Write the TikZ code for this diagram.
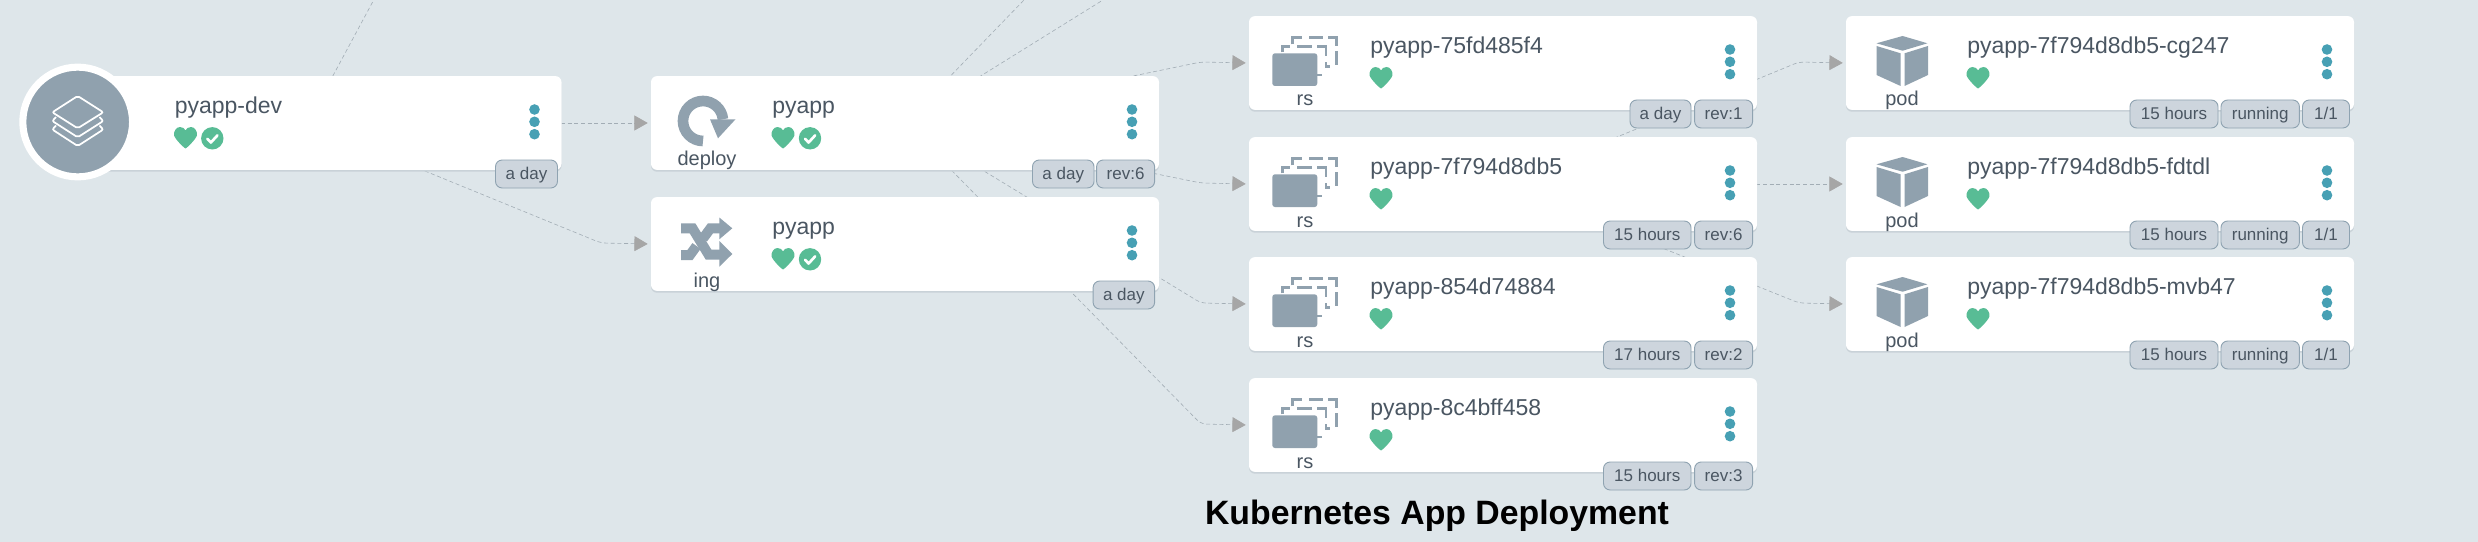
\documentclass[tikz,border=0pt]{standalone}
\usepackage{fontspec}
\setmainfont{Liberation Sans}
\usetikzlibrary{arrows.meta,shadows}
\definecolor{bgc}{HTML}{DEE6EA}
\definecolor{textc}{HTML}{4A5662}
\definecolor{iconc}{HTML}{90A1AE}
\definecolor{greenc}{HTML}{58BC95}
\definecolor{dotc}{HTML}{47A0B4}
\definecolor{badgef}{HTML}{CDD5DD}
\definecolor{badged}{HTML}{8FA3B1}
\definecolor{edgec}{HTML}{A2ADB5}
\definecolor{arrowc}{HTML}{A6A6A6}
\definecolor{shadowc}{HTML}{C9D2D8}
\pgfdeclarelayer{edges}
\pgfsetlayers{edges,main}
\tikzset{
  card/.style={rectangle,rounded corners=4.5pt,fill=white,draw=none,minimum width=381pt,minimum height=70.3pt,inner sep=0pt,
    copy shadow={shadow xshift=0pt,shadow yshift=-1.4pt,fill=shadowc,draw=none}},
  title/.style={text=textc,inner sep=0pt,font=\fontsize{17.25pt}{20pt}\selectfont},
  small/.style={text=textc,inner sep=0pt,font=\fontsize{15pt}{18pt}\selectfont},
  badge/.style={rectangle,rounded corners=5pt,fill=badgef,draw=badged,line width=.7pt,minimum height=21pt,inner sep=0pt,
    text=textc,text height=10pt,text depth=1.8pt,font=\fontsize{12.75pt}{15pt}\selectfont},
  edge/.style={draw=edgec,line width=.45pt,dash pattern=on 3pt off 2pt,rounded corners=4pt},
  arrowed/.style={edge,shorten >=2.25pt,-{Triangle[length=10pt,width=11.25pt,color=arrowc,fill=arrowc]}},
  caption/.style={text=black,inner sep=0pt,font=\fontsize{25.35pt}{30pt}\selectfont\bfseries},
  rsline/.style={iconc,line width=2pt},
}
\newcommand{\kheart}[2]{\begin{scope}[shift={(#1,#2)}]
  \fill[greenc] (11.5,20.7) .. controls (10.5,20.7) and (1.5,12) .. (0.2,8) .. controls (-0.8,3.5) and (2.5,-0.7) .. (6,-0.7)
    .. controls (8.5,-0.7) and (10.5,0.8) .. (11.5,2.6) .. controls (12.5,0.8) and (14.5,-0.7) .. (17,-0.7)
    .. controls (20.5,-0.7) and (23.8,3.5) .. (22.8,8) .. controls (21.5,12) and (12.5,20.7) .. (11.5,20.7) -- cycle;
\end{scope}}
\newcommand{\kcheck}[2]{\begin{scope}[shift={(#1,#2)}]
  \fill[greenc] (0,0) circle[radius=11.2];
  \draw[white,line width=2pt,line cap=round,line join=round] (-5,0.5) -- (-1.4,4.2) -- (5.2,-3);
\end{scope}}
\newcommand{\kebab}[2]{\begin{scope}[shift={(#1,#2)}]
  \fill[dotc] (0,33.5) circle[radius=5.3] (0,45.8) circle[radius=5.3] (0,58.2) circle[radius=5.3];
\end{scope}}
\newcommand{\kcard}[5]{%
  \pgfmathsetmacro\kcx{#2+254}\pgfmathsetmacro\kcy{#3+47}
  \node[card] (#1) at (\kcx,\kcy) {};
  \node[title,anchor=base west] (#1-title) at (#2+121,#3+37.7) {#4};
  \node[small,anchor=base] (#1-kind) at (#2+56,#3+90) {#5};
  \kheart{#2+120.5}{#3+51.7}
  \kebab{#2+481}{#3}
}
\newcommand{\kbadge}[5]{%
  \pgfmathsetlengthmacro\kbw{#3*0.75pt}\pgfmathsetmacro\kbx{#2-#3/2}\pgfmathsetmacro\kby{#4+98}
  \node[badge,minimum width=\kbw] (#1) at (\kbx,\kby) {#5};
}
\newcommand{\rsicon}[2]{\begin{scope}[shift={(#1,#2)}]
  \draw[rsline] (43.3,28.3) -- (43.3,21.7) -- (52.7,21.7);
  \draw[rsline] (60.3,21.7) -- (73.7,21.7);
  \draw[rsline] (79.3,21.7) -- (87.7,21.7) -- (87.7,29.7);
  \draw[rsline] (87.7,35) -- (87.7,49);
  \draw[rsline] (77,50.7) -- (80.5,50.7);
  \draw[rsline] (33.3,36.3) -- (33.3,30.7) -- (41,30.7);
  \draw[rsline] (48.3,30.7) -- (62.7,30.7);
  \draw[rsline] (68.3,30.7) -- (77,30.7) -- (77,39.7);
  \draw[rsline] (77,46.3) -- (77,52.3);
  \draw[rsline] (68.3,59) -- (73,59);
  \fill[iconc,rounded corners=2pt] (23.3,37.3) rectangle (68.3,70);
\end{scope}}
\newcommand{\podicon}[2]{\begin{scope}[shift={(#1,#2)}]
  \fill[iconc] (56.6,20) -- (81.4,27.3) -- (56.6,34.7) -- (30.5,27.3) -- cycle;
  \fill[iconc] (30.5,30) -- (54.6,37.3) -- (54.6,70) -- (30.5,59) -- cycle;
  \fill[iconc] (58.5,37.3) -- (82,30) -- (82,59) -- (58.5,70) -- cycle;
\end{scope}}
\begin{document}
\begin{tikzpicture}[x=0.75pt,y=-0.75pt]
\useasboundingbox (0,0) rectangle (2478,542);

% cards
\kcard{dev}{53.5}{76}{pyapp-dev}{}
\node[circle,fill=iconc,draw=white,line width=5.3pt,minimum size=82.3pt,inner sep=0pt] (devicon) at (77.7,122) {};
\draw[white,line width=1.3pt,rounded corners=1.5pt] (77.7,96) -- (103.3,112.3) -- (77.7,128.3) -- (52.3,112.3) -- cycle;
\draw[white,line width=1.3pt,rounded corners=1.5pt] (56,117) -- (52.3,121) -- (77.7,137.3) -- (103.3,121) -- (99.5,117);
\draw[white,line width=1.3pt,rounded corners=1.5pt] (56,125.5) -- (52.3,129.5) -- (77.7,146) -- (103.3,129.5) -- (99.5,125.5);
\kcheck{212.3}{138.3}
\kbadge{dev-age}{557.5}{62}{76}{a day}

\kcard{deploy}{651}{76}{pyapp}{deploy}
\draw[iconc,line width=8pt] (703,141) arc[start angle=90,end angle=355,radius=20];
\fill[iconc] (710,119.3) -- (735.5,119.3) -- (718,138.3) -- cycle;
\kcheck{810}{138.3}
\kbadge{deploy-age}{1094}{61.5}{76}{a day}
\kbadge{deploy-rev}{1154.6}{58}{76}{rev:6}

\kcard{ing}{651}{197}{pyapp}{ing}
\draw[iconc,line width=7.5pt,line join=miter] (681,228.3) -- (692.5,228.3) -- (708.5,254.5) -- (722,254.5);
\draw[iconc,line width=7.5pt] (681,255) -- (690,255) -- (696.5,246);
\draw[iconc,line width=7.5pt] (703,238.5) -- (710.5,228.3) -- (722,228.3);
\fill[iconc] (719.3,241) -- (732.3,254) -- (719.3,266.7) -- cycle;
\fill[iconc] (719.3,217.5) -- (732.3,228.3) -- (719.3,239.3) -- cycle;
\kcheck{810}{259.3}
\kbadge{ing-age}{1154.6}{61.5}{197}{a day}

\kcard{rsa}{1249}{16}{pyapp-75fd485f4}{rs}
\rsicon{1249}{16}
\kbadge{rsa-age}{1691}{61}{16}{a day}
\kbadge{rsa-rev}{1752.6}{58}{16}{rev:1}

\kcard{rsb}{1249}{137}{pyapp-7f794d8db5}{rs}
\rsicon{1249}{137}
\kbadge{rsb-age}{1691}{87.5}{137}{15 hours}
\kbadge{rsb-rev}{1752.6}{58}{137}{rev:6}

\kcard{rsc}{1249}{257}{pyapp-854d74884}{rs}
\rsicon{1249}{257}
\kbadge{rsc-age}{1691}{87.5}{257}{17 hours}
\kbadge{rsc-rev}{1752.6}{58}{257}{rev:2}

\kcard{rsd}{1249}{378}{pyapp-8c4bff458}{rs}
\rsicon{1249}{378}
\kbadge{rsd-age}{1691}{87.5}{378}{15 hours}
\kbadge{rsd-rev}{1752.6}{58}{378}{rev:3}

\kcard{poda}{1846}{16}{pyapp-7f794d8db5-cg247}{pod}
\podicon{1846}{16}
\kbadge{poda-age}{2218}{88}{16}{15 hours}
\kbadge{poda-st}{2299.4}{78.4}{16}{running}
\kbadge{poda-rd}{2349.5}{47}{16}{1/1}

\kcard{podb}{1846}{137}{pyapp-7f794d8db5-fdtdl}{pod}
\podicon{1846}{137}
\kbadge{podb-age}{2218}{88}{137}{15 hours}
\kbadge{podb-st}{2299.4}{78.4}{137}{running}
\kbadge{podb-rd}{2349.5}{47}{137}{1/1}

\kcard{podc}{1846}{257}{pyapp-7f794d8db5-mvb47}{pod}
\podicon{1846}{257}
\kbadge{podc-age}{2218}{88}{257}{15 hours}
\kbadge{podc-st}{2299.4}{78.4}{257}{running}
\kbadge{podc-rd}{2349.5}{47}{257}{1/1}

\node[caption] (cap) at (1437,516) {Kubernetes App Deployment};

% connectors
\coordinate (devup) at (373.7,0);
\coordinate (depupa) at (1024,0);
\coordinate (depupb) at (1103,0);
\coordinate (w-ing) at (601,243);
\coordinate (w-rsa) at (1201,62);
\coordinate (w-rsb) at (1201,183);
\coordinate (w-rsc) at (1201,303);
\coordinate (w-rsd) at (1201,424);
\coordinate (w-poda) at (1799,62);
\coordinate (w-podc) at (1799,303);
\begin{pgfonlayer}{edges}
\fill[bgc] (0,0) rectangle (2478,542);
\draw[edge] (dev.center) -- (devup);
\draw[arrowed] (dev.center) -- (deploy.west);
\draw[arrowed] (dev.center) -- (w-ing) -- (ing.west);
\draw[edge] (deploy.center) -- (depupa);
\draw[edge] (deploy.center) -- (depupb);
\draw[arrowed] (deploy.center) -- (w-rsa) -- (rsa.west);
\draw[arrowed] (deploy.center) -- (w-rsb) -- (rsb.west);
\draw[arrowed] (deploy.center) -- (w-rsc) -- (rsc.west);
\draw[arrowed] (deploy.center) -- (w-rsd) -- (rsd.west);
\draw[arrowed] (rsb.center) -- (w-poda) -- (poda.west);
\draw[arrowed] (rsb.center) -- (podb.west);
\draw[arrowed] (rsb.center) -- (w-podc) -- (podc.west);
\end{pgfonlayer}
\end{tikzpicture}
\end{document}
